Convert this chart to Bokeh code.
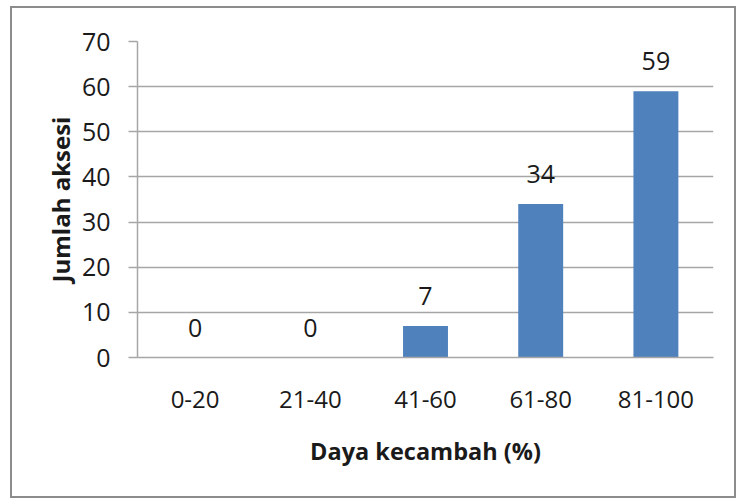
from bokeh.plotting import figure
from bokeh.models import Range1d, FixedTicker, ColumnDataSource
from bokeh.core.properties import value
from bokeh.embed import file_html
from bokeh.resources import INLINE

categories = ["0-20", "21-40", "41-60", "61-80", "81-100"]
counts = [0, 0, 7, 34, 59]
count_labels = ["0", "0", "7", "34", "59"]
y_ticks = [0, 10, 20, 30, 40, 50, 60, 70]

FONT = "Open Sans"
GRID = "#a6a6a6"
TXT = "#1a1a1a"

src = ColumnDataSource(dict(cat=categories, n=counts, lab=count_labels))

p = figure(x_range=categories, y_range=Range1d(0, 70), width=726, height=492,
           output_backend="svg", toolbar_location=None,
           min_border_left=125, min_border_right=25, min_border_top=33, min_border_bottom=143)
p.styles = {"border": "2px solid #8c8c8c", "margin-left": "10px", "margin-top": "6px"}
p.outline_line_color = None
p.background_fill_color = "white"
p.border_fill_color = "white"

p.vbar(x="cat", top="n", width=0.39, source=src, fill_color="#4f81bd", line_color=None)
p.text(x="cat", y="n", text="lab", source=src, text_align="center", text_baseline="bottom",
       y_offset=-21, text_font=value(FONT), text_font_size="25px", text_color=TXT)

p.xgrid.grid_line_color = None
p.ygrid.grid_line_color = GRID
p.ygrid.grid_line_width = 1.5

p.yaxis.ticker = FixedTicker(ticks=y_ticks)
p.yaxis.axis_line_color = GRID
p.yaxis.axis_line_width = 1.5
p.yaxis.major_tick_line_color = GRID
p.yaxis.major_tick_line_width = 1.5
p.yaxis.major_tick_out = 9
p.yaxis.major_tick_in = 0
p.yaxis.minor_tick_line_color = None
p.yaxis.major_label_standoff = 18
p.yaxis.major_label_text_font = FONT
p.yaxis.major_label_text_font_size = "25px"
p.yaxis.major_label_text_color = TXT
p.yaxis.axis_label = "Jumlah aksesi"
p.yaxis.axis_label_text_font = FONT
p.yaxis.axis_label_text_font_style = "bold"
p.yaxis.axis_label_text_font_size = "24px"
p.yaxis.axis_label_text_color = TXT
p.yaxis.axis_label_standoff = 2

p.xaxis.axis_line_color = GRID
p.xaxis.axis_line_width = 1.5
p.xaxis.major_tick_line_color = None
p.xaxis.major_tick_out = 0
p.xaxis.major_tick_in = 0
p.xaxis.major_label_standoff = 33
p.xaxis.major_label_text_font = FONT
p.xaxis.major_label_text_font_size = "24px"
p.xaxis.major_label_text_color = TXT
p.xaxis.axis_label = "Daya kecambah (%)"
p.xaxis.axis_label_text_font = FONT
p.xaxis.axis_label_text_font_style = "bold"
p.xaxis.axis_label_text_font_size = "23.5px"
p.xaxis.axis_label_text_color = TXT
p.xaxis.axis_label_standoff = 24

open("out.html", "w").write(file_html(p, INLINE))
